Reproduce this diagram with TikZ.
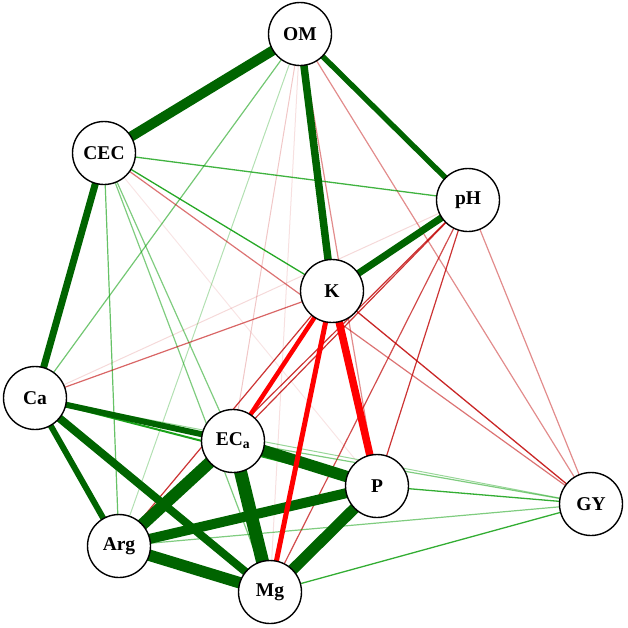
\documentclass[tikz,border=0pt]{standalone}
\usepackage{fontspec}
\setmainfont{Liberation Serif}
\pgfdeclarelayer{bg}
\pgfsetlayers{bg,main}
\definecolor{gw}{RGB}{0,153,0}
\definecolor{gs}{RGB}{0,100,0}
\definecolor{rw}{RGB}{191,0,0}
\definecolor{rs}{RGB}{255,0,0}
\begin{document}
\begin{tikzpicture}[x=1pt,y=-1pt,
  var/.style={circle,draw=black,line width=1.4pt,fill=white,minimum size=63pt,inner sep=0pt,
    font=\fontsize{19.5}{21}\selectfont\bfseries},
  pw/.style={gw,line width=#1},
  ps/.style={gs,line width=#1},
  nw/.style={rw,line width=#1},
  ns/.style={rs,line width=#1}]
\useasboundingbox (0,0) rectangle (628,627);
\node[var] (OM)  at (300,34)  {OM};
\node[var] (CEC) at (104,153) {CEC};
\node[var] (pH)  at (468,200) {pH};
\node[var] (K)   at (332,291) {K};
\node[var] (Ca)  at (35,398)  {Ca};
\node[var] (ECa) at (233,441) {EC\textsubscript{a}};
\node[var] (P)   at (377,486) {P};
\node[var] (GY)  at (591,504) {GY};
\node[var] (Arg) at (119,546) {Arg};
\node[var] (Mg)  at (270,592) {Mg};
\begin{pgfonlayer}{bg}
% faint edges
\draw[nw=1pt,draw opacity=.12] (OM.center) -- (Mg.center);
\draw[nw=1pt,draw opacity=.1] (CEC.center) -- (P.center);
\draw[nw=1pt,draw opacity=.15] (pH.center) -- (Ca.center);
\draw[nw=1pt,draw opacity=.22] (OM.center) -- (ECa.center);
\draw[pw=1pt,draw opacity=.3] (OM.center) -- (Arg.center);
\draw[pw=1pt,draw opacity=.4] (Ca.center) -- (GY.center);
% thin edges
\draw[pw=1.2pt,draw opacity=.55] (OM.center) -- (Ca.center);
\draw[nw=1.2pt,draw opacity=.45] (OM.center) -- (P.center);
\draw[nw=1.2pt,draw opacity=.45] (OM.center) -- (GY.center);
\draw[pw=1.3pt,draw opacity=.75] (CEC.center) -- (pH.center);
\draw[pw=1.3pt,draw opacity=.85] (CEC.center) -- (K.center);
\draw[pw=1.2pt,draw opacity=.5] (CEC.center) -- (ECa.center);
\draw[nw=1.2pt,draw opacity=.55] (CEC.center) -- (GY.center);
\draw[pw=1.2pt,draw opacity=.6] (CEC.center) -- (Arg.center);
\draw[pw=1.2pt,draw opacity=.5] (CEC.center) -- (Mg.center);
\draw[nw=1.2pt,draw opacity=.8] (pH.center) -- (ECa.center);
\draw[nw=1.2pt,draw opacity=.8] (pH.center) -- (P.center);
\draw[nw=1.2pt,draw opacity=.45] (pH.center) -- (GY.center);
\draw[nw=1.2pt,draw opacity=.8] (pH.center) -- (Arg.center);
\draw[nw=1.2pt,draw opacity=.7] (pH.center) -- (Mg.center);
\draw[nw=1.2pt,draw opacity=.6] (K.center) -- (Ca.center);
\draw[nw=1.3pt,draw opacity=.85] (K.center) -- (GY.center);
\draw[nw=1.2pt,draw opacity=.8] (K.center) -- (Arg.center);
\draw[pw=1.2pt,draw opacity=.5] (ECa.center) -- (GY.center);
\draw[pw=1.3pt,draw opacity=.8] (P.center) -- (GY.center);
\draw[pw=1.2pt,draw opacity=.5] (GY.center) -- (Arg.center);
\draw[pw=1.3pt,draw opacity=.8] (GY.center) -- (Mg.center);
\draw[pw=2pt,draw opacity=.9] (Ca.center) -- (P.center);
% strong edges
\draw[ps=5.5pt] (OM.center) -- (pH.center);
\draw[ps=6pt] (Ca.center) -- (ECa.center);
\draw[ps=6pt] (Ca.center) -- (Arg.center);
\draw[ps=7pt] (CEC.center) -- (Ca.center);
\draw[ps=7pt] (pH.center) -- (K.center);
\draw[ps=7.5pt] (OM.center) -- (K.center);
\draw[ps=8pt] (Ca.center) -- (Mg.center);
\draw[ps=10pt] (OM.center) -- (CEC.center);
\draw[ps=10pt] (P.center) -- (Arg.center);
\draw[ps=11pt] (P.center) -- (Mg.center);
\draw[ps=11.5pt] (Arg.center) -- (Mg.center);
\draw[ps=11.5pt] (ECa.center) -- (P.center);
\draw[ps=12pt] (ECa.center) -- (Arg.center);
\draw[ps=13pt] (ECa.center) -- (Mg.center);
\draw[ns=4.5pt] (K.center) -- (ECa.center);
\draw[ns=5pt] (K.center) -- (Mg.center);
\draw[ns=7.5pt] (K.center) -- (P.center);
\end{pgfonlayer}
\end{tikzpicture}
\end{document}
